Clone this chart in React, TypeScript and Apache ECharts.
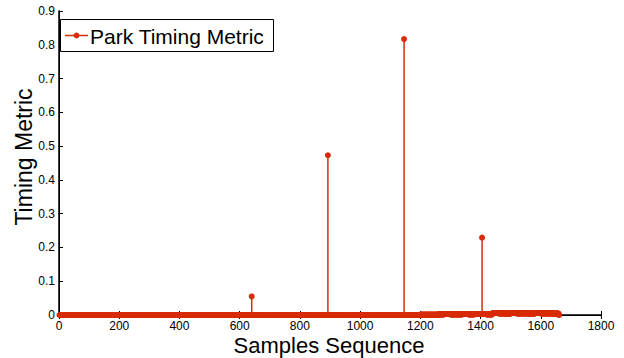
import React, { useEffect, useRef } from "react";
import * as echarts from "echarts";

// ---- data ----
const sampleCount = 1662; // samples 0..1661
const spikeIndices = [640, 893, 1146, 1405];
const spikeValues = [0.055, 0.473, 0.817, 0.229];
// small residual values in the tail, one value per block of 20 samples starting at 1200
const noiseBlockStart = 1200;
const noiseBlockSize = 20;
const noiseBlockValues = [
  0.001, 0.001, 0.001, 0.002, 0.003, 0.002, 0.002, 0.003, 0.002, 0.003, 0.003, 0.002,
  0.006, 0.005, 0.004, 0.006, 0.005, 0.005, 0.004, 0.006, 0.005, 0.005, 0.004,
];
const xTicks = { min: 0, max: 1800, interval: 200 };
const yTicks = { min: 0, max: 0.9, interval: 0.1 };
const seriesName = "Park Timing Metric";
const xName = "Samples Sequence";
const yName = "Timing Metric";

const RED = "#d82c06";
const FONT = "Liberation Sans, Arial, Helvetica, sans-serif";

function buildSamples(): number[][] {
  const out: number[][] = [];
  for (let i = 0; i < sampleCount; i++) {
    let v = 0;
    if (i >= noiseBlockStart) {
      const b = Math.floor((i - noiseBlockStart) / noiseBlockSize);
      if (b < noiseBlockValues.length) v = noiseBlockValues[b];
    }
    const k = spikeIndices.indexOf(i);
    if (k >= 0) v = spikeValues[k];
    out.push([i, v]);
  }
  return out;
}

export default function App() {
  const ref = useRef<HTMLDivElement>(null);
  useEffect(() => {
    if (!ref.current) return;
    const chart = echarts.init(ref.current, undefined, { renderer: "svg" });
    const data = buildSamples();
    const grid = { left: 59, top: 11, right: 23, bottom: 43, outerBoundsMode: "none", containLabel: false };
    chart.setOption({
      animation: false,
      backgroundColor: "#ffffff",
      grid,
      xAxis: [
        {
          type: "value",
          min: xTicks.min,
          max: xTicks.max,
          interval: xTicks.interval,
          axisLine: { lineStyle: { color: "#000", width: 1.5 } },
          axisTick: { inside: true, length: 4, lineStyle: { color: "#000" } },
          axisLabel: {
            fontFamily: FONT,
            fontSize: 12,
            lineHeight: 12,
            color: "#000",
            margin: 5,
            formatter: (v: number) => String(v),
          },
          splitLine: { show: false },
        },
        {
          type: "value",
          position: "top",
          min: xTicks.min,
          max: xTicks.max,
          interval: xTicks.interval,
          axisLine: { lineStyle: { color: "#000", width: 1 } },
          axisTick: { inside: true, length: 4, lineStyle: { color: "#000" } },
          axisLabel: { show: false },
          splitLine: { show: false },
        },
      ],
      yAxis: [
        {
          type: "value",
          min: yTicks.min,
          max: yTicks.max,
          interval: yTicks.interval,
          axisLine: { show: true, lineStyle: { color: "#000", width: 1.5 } },
          axisTick: { show: true, inside: true, length: 4, lineStyle: { color: "#000" } },
          axisLabel: {
            fontFamily: FONT,
            fontSize: 12,
            color: "#000",
            margin: 4,
            formatter: (v: number) => (v === 0 ? "0" : v.toFixed(1)),
          },
          splitLine: { show: false },
        },
        {
          type: "value",
          position: "right",
          min: yTicks.min,
          max: yTicks.max,
          interval: yTicks.interval,
          axisLine: { show: true, lineStyle: { color: "#000", width: 1 } },
          axisTick: { show: false },
          axisLabel: { show: false },
          splitLine: { show: false },
        },
      ],
      series: [
        {
          type: "custom",
          name: seriesName,
          xAxisIndex: 0,
          yAxisIndex: 0,
          data,
          renderItem: (params: any, api: any) => {
            const x = api.value(0);
            const v = api.value(1);
            const p0 = api.coord([x, 0]);
            const p1 = api.coord([x, v]);
            const r = x < 510 ? 2.5 : 3;
            const children: any[] = [];
            if (v > 0.01) {
              children.push({
                type: "line",
                shape: { x1: p0[0], y1: p0[1], x2: p1[0], y2: p1[1] },
                style: { stroke: RED, lineWidth: 1.5 },
              });
            }
            children.push({
              type: "circle",
              shape: { cx: p1[0], cy: p1[1], r },
              style: { fill: RED },
            });
            return { type: "group", children };
          },
        },
      ],
      graphic: [
        {
          type: "text",
          x: 329,
          y: 345,
          style: {
            text: xName,
            fontFamily: FONT,
            fontSize: 22,
            lineHeight: 22,
            fill: "#000",
            align: "center",
            verticalAlign: "middle",
          },
        },
        {
          type: "text",
          x: 23.5,
          y: 157,
          rotation: Math.PI / 2,
          style: {
            text: yName,
            fontFamily: FONT,
            fontSize: 23,
            fill: "#000",
            align: "center",
            verticalAlign: "middle",
          },
        },
        {
          type: "rect",
          shape: { x: 60.5, y: 19.5, width: 213, height: 32 },
          style: { fill: "#fff", stroke: "#000", lineWidth: 1 },
          z: 100,
        },
        {
          type: "line",
          shape: { x1: 65, y1: 35.5, x2: 88, y2: 35.5 },
          style: { stroke: RED, lineWidth: 1.5 },
          z: 101,
        },
        {
          type: "circle",
          shape: { cx: 76.5, cy: 35.5, r: 3 },
          style: { fill: RED },
          z: 101,
        },
        {
          type: "text",
          x: 90,
          y: 36,
          style: {
            text: seriesName,
            fontFamily: FONT,
            fontSize: 21,
            fill: "#000",
            verticalAlign: "middle",
            align: "left",
          },
          z: 101,
        },
      ],
    });
    return () => chart.dispose();
  }, []);
  return (
    <div
      ref={ref}
      style={{ position: "fixed", left: 0, top: 0, width: 624, height: 358 }}
    />
  );
}
